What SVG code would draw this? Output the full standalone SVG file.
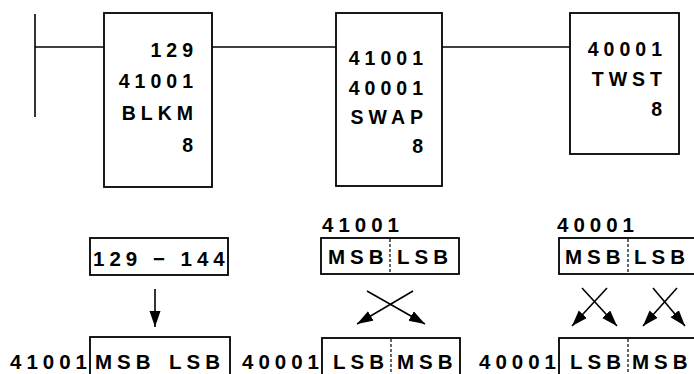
<svg xmlns="http://www.w3.org/2000/svg" width="694" height="374" viewBox="0 0 694 374">
<style>
text{font-family:"Liberation Sans",Arial,sans-serif;font-weight:bold;fill:#000;letter-spacing:5px}
.t{font-size:19.5px}
.b{font-size:20.5px}
.box{fill:#fff;stroke:#000;stroke-width:1.8}
.ln{stroke:#000;stroke-width:1.6;fill:none}
.ar{stroke:#000;stroke-width:1.6;fill:none;marker-end:url(#ah)}
.dv{stroke:#000;stroke-width:1.2;stroke-dasharray:3,2}
</style>
<defs>
<marker id="ah" markerUnits="userSpaceOnUse" markerWidth="18" markerHeight="14" refX="16" refY="5.5" orient="auto">
<path d="M0,0 L16,5.5 L0,11 Z" fill="#000"/>
</marker>
</defs>
<g id="connectors">
<line class="ln" x1="35" y1="14" x2="35" y2="117"/>
<line class="ln" x1="35" y1="47" x2="104" y2="47"/>
<line class="ln" x1="212" y1="47" x2="336" y2="47"/>
<line class="ln" x1="442" y1="47" x2="570" y2="47"/>
<line class="ar" x1="155" y1="289" x2="155" y2="327"/>
<line class="ar" x1="367" y1="291" x2="425" y2="324"/>
<line class="ar" x1="413" y1="291" x2="357" y2="324"/>
<line class="ar" x1="582" y1="288" x2="617" y2="326"/>
<line class="ar" x1="607" y1="288" x2="572" y2="326"/>
<line class="ar" x1="653" y1="288" x2="685" y2="326"/>
<line class="ar" x1="677" y1="288" x2="643" y2="326"/>
</g>
<g id="blkm">
<rect class="box" x="104" y="13" width="108" height="174"/>
<text class="t" x="198" y="57" text-anchor="end">129</text>
<text class="t" x="198" y="88" text-anchor="end">41001</text>
<text class="t" x="198" y="120" text-anchor="end">BLKM</text>
<text class="t" x="198" y="152" text-anchor="end">8</text>
</g>
<g id="swap">
<rect class="box" x="336" y="13" width="106" height="173"/>
<text class="t" x="428" y="65" text-anchor="end">41001</text>
<text class="t" x="428" y="95" text-anchor="end">40001</text>
<text class="t" x="428" y="124" text-anchor="end">SWAP</text>
<text class="t" x="428" y="153" text-anchor="end">8</text>
</g>
<g id="twst">
<rect class="box" x="570" y="13" width="109" height="141"/>
<text class="t" x="667" y="56" text-anchor="end">40001</text>
<text class="t" x="667" y="86" text-anchor="end">TWST</text>
<text class="t" x="667" y="116" text-anchor="end">8</text>
</g>
<g id="range">
<rect class="box" x="90" y="238" width="138" height="37"/>
<text class="b" x="93" y="266">129 − 144</text>
</g>
<g id="blkm-dest">
<rect class="box" x="90" y="337" width="140" height="45"/>
<text class="b" x="10" y="369">41001</text>
<text class="b" x="95" y="369">MSB</text>
<text class="b" x="169" y="369">LSB</text>
</g>
<g id="swap-src">
<text class="b" x="322" y="232">41001</text>
<rect class="box" x="321" y="238" width="138" height="36"/>
<line class="dv" x1="390" y1="239" x2="390" y2="273"/>
<text class="b" x="328" y="264">MSB</text>
<text class="b" x="397" y="264">LSB</text>
</g>
<g id="swap-dest">
<text class="b" x="242" y="369">40001</text>
<rect class="box" x="322" y="338" width="138" height="44"/>
<line class="dv" x1="391" y1="339" x2="391" y2="374"/>
<text class="b" x="333" y="369">LSB</text>
<text class="b" x="397" y="369">MSB</text>
</g>
<g id="twst-src">
<text class="b" x="557" y="232">40001</text>
<rect class="box" x="559" y="238" width="140" height="36"/>
<line class="dv" x1="628" y1="239" x2="628" y2="273"/>
<text class="b" x="565" y="264">MSB</text>
<text class="b" x="634" y="264">LSB</text>
</g>
<g id="twst-dest">
<text class="b" x="479" y="369">40001</text>
<rect class="box" x="559" y="338" width="140" height="44"/>
<line class="dv" x1="628" y1="339" x2="628" y2="374"/>
<text class="b" x="570" y="369">LSB</text>
<text class="b" x="632" y="369">MSB</text>
</g>
</svg>
